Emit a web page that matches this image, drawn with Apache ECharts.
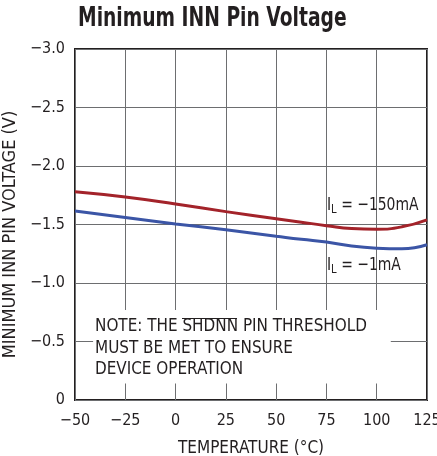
<!DOCTYPE html>
<html>
<head>
<meta charset="utf-8">
<script src="https://cdn.jsdelivr.net/npm/echarts@6/dist/echarts.min.js"></script>
<style>
  html, body { margin: 0; padding: 0; background: #fff; }
  #chart { width: 437px; height: 456px; }
</style>
</head>
<body>
<div id="chart"></div>
<script>
// temperature (°C)
const temps = [-50, -25, 0, 25, 50, 62.5, 75, 87.5, 100, 112.5, 125]
// I_L = -150mA
const load150 = [-1.78, -1.735, -1.675, -1.61, -1.55, -1.52, -1.49, -1.465, -1.46, -1.48, -1.54]
// I_L = -1mA
const load1 = [-1.615, -1.56, -1.505, -1.455, -1.40, -1.373, -1.35, -1.316, -1.298, -1.293, -1.327]

const font = '"Liberation Sans Narrow", "DejaVu Sans Condensed", sans-serif'
const ink = '#231f20'
const red = '#a3232a'
const blue = '#3b55a6'

const minus = v => (v < 0 ? '\u2212' + Math.abs(v) : String(v))

// I_L label, subscript L
const loadLabel = (x, y, txt) => ({
  type: 'text',
  x: x, y: y, scaleX: 0.86, z: 100,
  style: {
    text: '{i|I}{s|L}{i| = ' + txt + '}',
    verticalAlign: 'top',
    rich: {
      i: { fontFamily: font, fontSize: 18, fill: ink },
      s: { fontFamily: font, fontSize: 13, fill: ink, padding: [9, 0, 0, 0] }
    }
  }
})

const chart = echarts.init(document.getElementById('chart'))
chart.setOption({
  backgroundColor: '#fff',
  animation: false,
  grid: {
    left: 75, right: 10, top: 49, bottom: 56,
    outerBoundsMode: 'none',
    containLabel: false,
    show: true, borderColor: ink, borderWidth: 2, backgroundColor: 'transparent'
  },
  xAxis: {
    type: 'value',
    min: -50, max: 125, interval: 25,
    name: 'TEMPERATURE (°C)',
    nameLocation: 'middle',
    nameGap: 40,
    nameTextStyle: { fontFamily: font, fontSize: 17, color: ink },
    axisLine: { show: false },
    axisTick: { show: false },
    axisLabel: { fontFamily: font, fontSize: 16, color: ink, margin: 13, formatter: minus },
    splitLine: { lineStyle: { color: '#6d6e70', width: 1 } }
  },
  yAxis: {
    type: 'value',
    min: -3, max: 0, interval: 0.5, inverse: true,
    name: 'MINIMUM INN PIN VOLTAGE (V)',
    nameLocation: 'middle',
    nameGap: 51,
    nameTextStyle: { fontFamily: font, fontSize: 18, color: ink, padding: [0, 20, 0, 0] },
    axisLine: { show: false },
    axisTick: { show: false },
    axisLabel: {
      fontFamily: font, fontSize: 16, color: ink, margin: 10,
      formatter: v => (v === 0 ? '0' : '\u2212' + Math.abs(v).toFixed(1))
    },
    splitLine: { lineStyle: { color: '#6d6e70', width: 1 } }
  },
  series: [{
    name: '-150mA',
    type: 'line',
    smooth: true,
    showSymbol: false,
    lineStyle: { color: red, width: 3 },
    data: temps.map((t, i) => [t, load150[i]]),
    markArea: {
      silent: true,
      itemStyle: { color: '#fff', opacity: 1 },
      data: [[{ coord: [-41, -0.77] }, { coord: [107, -0.14] }]]
    }
  }, {
    name: '-1mA',
    type: 'line',
    smooth: true,
    showSymbol: false,
    lineStyle: { color: blue, width: 3 },
    data: temps.map((t, i) => [t, load1[i]])
  }],
  graphic: [{
    // title
    type: 'text',
    x: 78, y: 6, scaleX: 0.8, z: 100,
    style: {
      text: 'Minimum INN Pin Voltage',
      verticalAlign: 'top',
      fontFamily: font, fontWeight: 'bold', fontSize: 26, fill: ink
    }
  },
  loadLabel(327, 194, '\u2212150mA'),
  loadLabel(327, 254, '\u22121mA'),
  {
    type: 'text',
    x: 95, y: 316, scaleX: 0.94, z: 100,
    style: {
      text: 'NOTE: THE SHDNN PIN THRESHOLD\nMUST BE MET TO ENSURE\nDEVICE OPERATION',
      verticalAlign: 'top',
      fontFamily: font, fontSize: 18, lineHeight: 21.5, fill: ink
    }
  }, {
    // bar over SHDNN
    type: 'line',
    z: 100,
    shape: { x1: 182, y1: 318.5, x2: 237, y2: 318.5 },
    style: { stroke: ink, lineWidth: 1 }
  }]
})
</script>
</body>
</html>
